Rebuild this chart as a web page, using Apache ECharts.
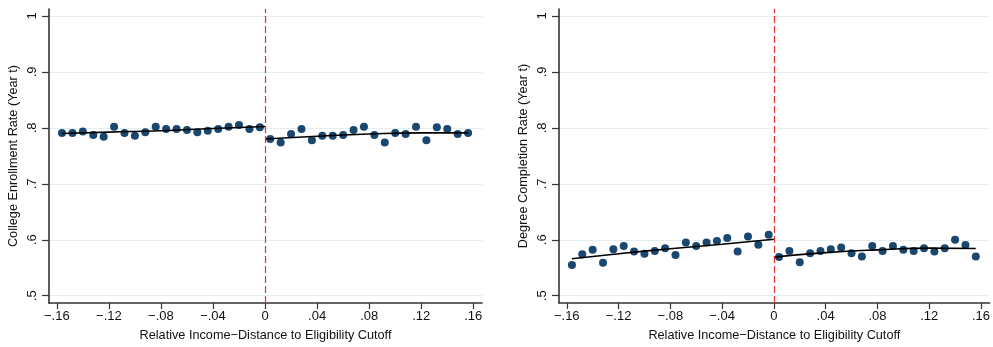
<!DOCTYPE html>
<html>
<head>
<meta charset="utf-8">
<script src="https://cdn.jsdelivr.net/npm/echarts@6/dist/echarts.min.js"></script>
<style>
html, body { margin: 0; padding: 0; background: #fff; }
#chart { width: 993px; height: 347px; }
</style>
</head>
<body>
<div id="chart"></div>
<script>
// bin centres (width .008)
var binsLeft = [-0.156, -0.148, -0.140, -0.132, -0.124, -0.116, -0.108, -0.100, -0.092, -0.084,
	-0.076, -0.068, -0.060, -0.052, -0.044, -0.036, -0.028, -0.020, -0.012, -0.004];
var binsRight = [0.004, 0.012, 0.020, 0.028, 0.036, 0.044, 0.052, 0.060, 0.068, 0.076,
	0.084, 0.092, 0.100, 0.108, 0.116, 0.124, 0.132, 0.140, 0.148, 0.156];

// college enrollment rate (left panel)
var enrollBelow = [0.791, 0.791, 0.7935, 0.7875, 0.784, 0.802, 0.791, 0.786, 0.792, 0.802,
	0.798, 0.798, 0.796, 0.792, 0.795, 0.798, 0.802, 0.805, 0.798, 0.801];
var enrollAbove = [0.780, 0.774, 0.789, 0.798, 0.778, 0.786, 0.786, 0.7875, 0.796, 0.802,
	0.7875, 0.774, 0.791, 0.789, 0.802, 0.778, 0.801, 0.798, 0.789, 0.791];

// degree completion rate (right panel)
var completeBelow = [0.555, 0.574, 0.582, 0.559, 0.583, 0.589, 0.579, 0.575, 0.580, 0.585,
	0.573, 0.595, 0.589, 0.595, 0.598, 0.603, 0.579, 0.606, 0.591, 0.609];
var completeAbove = [0.569, 0.580, 0.560, 0.576, 0.580, 0.583, 0.586, 0.576, 0.570, 0.589,
	0.580, 0.589, 0.582, 0.580, 0.585, 0.579, 0.585, 0.600, 0.5905, 0.570];

var fitXBelow = [-0.156, -0.12, -0.08, -0.04, 0];
var fitXAbove = [0, 0.04, 0.08, 0.12, 0.156];
var enrollFitBelow = [0.790, 0.7925, 0.795, 0.799, 0.8025];
var enrollFitAbove = [0.780, 0.785, 0.789, 0.791, 0.791];
var completeFitBelow = [0.566, 0.575, 0.584, 0.592, 0.601];
var completeFitAbove = [0.569, 0.577, 0.582, 0.585, 0.5845];

// ticks
var xTicks = [-0.16, -0.12, -0.08, -0.04, 0, 0.04, 0.08, 0.12, 0.16];
var yTicks = [0.5, 0.6, 0.7, 0.8, 0.9, 1];
var yTitles = ['College Enrollment Rate (Year t)', 'Degree Completion Rate (Year t)'];
var xTitle = 'Relative Income\u2212Distance to Eligibility Cutoff';

var dotColor = '#1a476f';
var textColor = '#111';
var font = 'Liberation Sans, Arial, Helvetica, sans-serif';

// Stata style labels: -.16, .8 ...
function stataLabel(v) {
	var r = Math.round(v * 100) / 100;
	if (r === 0) return '0';
	if (r === 1) return '1';
	var s = Math.abs(r).toString().replace(/^0/, '');
	return (r < 0 ? '\u2212' : '') + s;
}

function pairs(xs, ys) {
	var out = [];
	for (var i = 0; i < xs.length; i++) out.push([xs[i], ys[i]]);
	return out;
}

function makeX(idx) {
	return {
		type: 'value', gridIndex: idx,
		min: -0.166, max: 0.1667,
		name: xTitle, nameLocation: 'middle', nameGap: 26,
		nameTextStyle: { color: textColor, fontSize: 12.7, fontFamily: font },
		axisLine: { show: true, onZero: false, lineStyle: { color: '#333', width: 1.6 } },
		axisTick: { show: true, length: 6, customValues: xTicks, lineStyle: { color: '#333', width: 1.2 } },
		axisLabel: { customValues: xTicks, margin: 7, color: textColor, fontSize: 13, fontFamily: font,
			formatter: stataLabel },
		splitLine: { show: false }
	};
}

function makeY(idx) {
	return {
		type: 'value', gridIndex: idx,
		min: 0.487, max: 1.0125,
		name: yTitles[idx], nameLocation: 'middle', nameGap: 29,
		nameTextStyle: { color: textColor, fontSize: 12.7, fontFamily: font },
		axisLine: { show: true, onZero: false, lineStyle: { color: '#333', width: 1.6 } },
		axisTick: { show: true, length: 7, customValues: yTicks, lineStyle: { color: '#333', width: 1.2 } },
		axisLabel: { customValues: yTicks, rotate: 90, margin: 10, color: textColor, fontSize: 13, fontFamily: font,
			formatter: stataLabel },
		splitLine: { show: true, lineStyle: { color: '#e4eef0', width: 1 } }
	};
}

function panelSeries(idx, below, above, fitBelow, fitAbove) {
	return [
		{
			type: 'scatter', xAxisIndex: idx, yAxisIndex: idx,
			data: pairs(binsLeft, below).concat(pairs(binsRight, above)),
			symbolSize: 8, itemStyle: { color: dotColor, opacity: 1 }, z: 3
		},
		{
			type: 'line', xAxisIndex: idx, yAxisIndex: idx, smooth: true,
			data: pairs(fitXBelow, fitBelow), showSymbol: false,
			lineStyle: { color: '#000', width: 1.6 }, z: 4,
			markLine: {
				silent: true, symbol: 'none', label: { show: false },
				lineStyle: { color: '#e8302a', type: [7, 3], width: 1.2, opacity: 1 },
				emphasis: { disabled: true },
				data: [{ xAxis: 0 }]
			}
		},
		{
			type: 'line', xAxisIndex: idx, yAxisIndex: idx, smooth: true,
			data: pairs(fitXAbove, fitAbove), showSymbol: false,
			lineStyle: { color: '#000', width: 1.6 }, z: 4
		}
	];
}

var chart = echarts.init(document.getElementById('chart'), null, { renderer: 'canvas' });

var option = {
	animation: false,
	backgroundColor: '#fff',
	textStyle: { fontFamily: font },
	grid: [
		{ left: 49, top: 9, width: 433, height: 295 },
		{ left: 559, top: 9, width: 434, height: 295 }
	],
	xAxis: [makeX(0), makeX(1)],
	yAxis: [makeY(0), makeY(1)],
	series: panelSeries(0, enrollBelow, enrollAbove, enrollFitBelow, enrollFitAbove)
		.concat(panelSeries(1, completeBelow, completeAbove, completeFitBelow, completeFitAbove))
};

chart.setOption(option);
</script>
</body>
</html>
